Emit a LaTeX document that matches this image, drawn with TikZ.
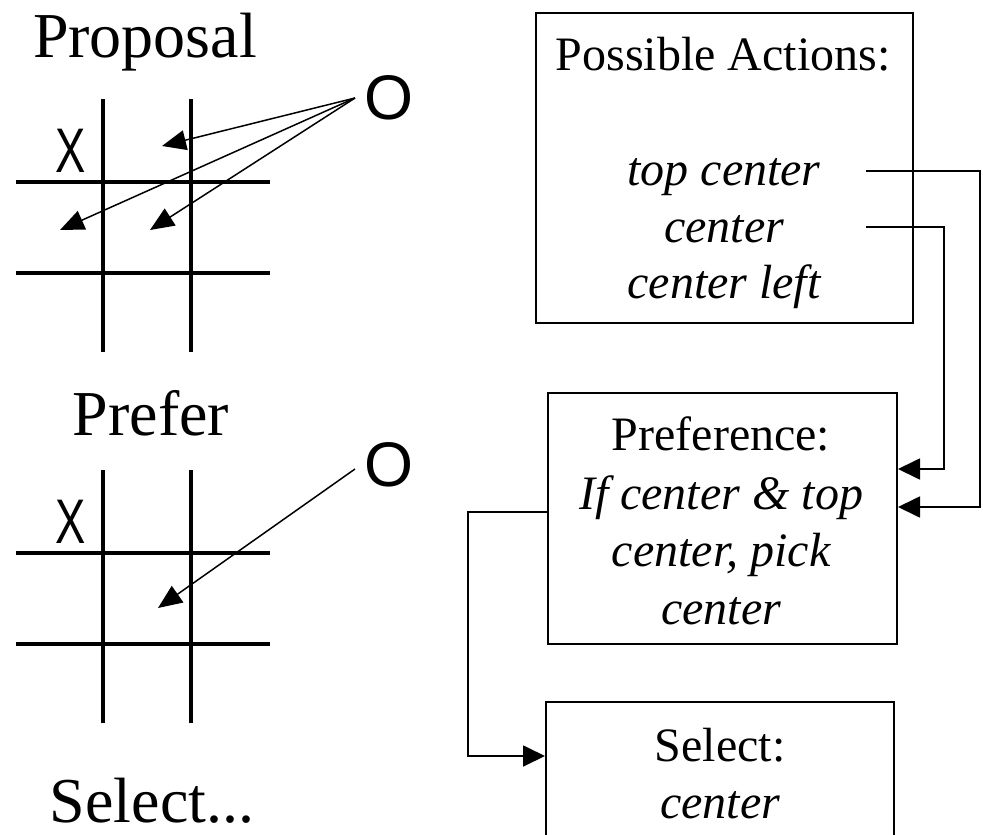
\documentclass[tikz,border=0pt]{standalone}
\usepackage{fontspec}
\setmainfont{Liberation Serif}
\newfontfamily\markfont{Liberation Sans}
\usetikzlibrary{arrows.meta}

\begin{document}
\begin{tikzpicture}[x=1pt,y=-1pt,
  gridline/.style={line width=3.5pt},
  movearrow/.style={line width=1.5pt,-{Triangle[length=24pt 0,width=20pt 0]}},
  box/.style={draw,line width=2pt,rectangle,inner sep=0pt},
  connarrow/.style={line width=1.8pt,-{Triangle[length=22pt 0,width=21pt 0]}},
  heading/.style={font=\fontsize{64}{70}\selectfont,anchor=base,inner sep=0pt},
  boxtext/.style={font=\fontsize{48}{56}\selectfont,anchor=base,inner sep=0pt},
  playmark/.style={font=\markfont\fontsize{63}{70}\selectfont,anchor=base,inner sep=0pt}
]
\useasboundingbox (0,0) rectangle (983,835);
\clip (0,0) rectangle (983,835);

% ---------- left column: boards ----------
\node[heading] (proposal) at (145,57) {Proposal};
\node[heading] (prefer) at (151,435) {Prefer};
\node[heading] (select) at (152,822) {Select...};

% first board
\draw[gridline] (103,99) -- (103,352);
\draw[gridline] (191,99) -- (191,352);
\draw[gridline] (16,182) -- (270,182);
\draw[gridline] (16,273) -- (270,273);
\node[playmark] (xa) at (71,172) {\scalebox{0.72}[1]{X}};
\node[playmark] (oa) at (389,119) {O};
\coordinate (oafrom) at (355,98);
\coordinate (ta1) at (162,146);
\coordinate (ta2) at (60,230);
\coordinate (ta3) at (150,230);
\draw[movearrow] (oafrom) -- (ta1);
\draw[movearrow] (oafrom) -- (ta2);
\draw[movearrow] (oafrom) -- (ta3);

% second board
\draw[gridline] (103,470) -- (103,723);
\draw[gridline] (191,470) -- (191,723);
\draw[gridline] (16,553) -- (270,553);
\draw[gridline] (16,644) -- (270,644);
\node[playmark] (xb) at (71,543) {\scalebox{0.72}[1]{X}};
\node[playmark] (ob) at (389,486) {O};
\coordinate (obfrom) at (355,469);
\coordinate (tb) at (158,608);
\draw[movearrow] (obfrom) -- (tb);

% ---------- right column: decision boxes ----------
\node[box,minimum width=377pt,minimum height=310pt] (actions) at (724.5,168) {};
\node[boxtext] (acthead) at (723,70) {Possible Actions:};
\node[boxtext] (act1) at (724,185) {\itshape top center};
\node[boxtext] (act2) at (724,242) {\itshape center};
\node[boxtext] (act3) at (724,298) {\itshape center left};

\node[box,minimum width=349pt,minimum height=251pt] (pref) at (722.5,518.5) {};
\node[boxtext] (prefhead) at (721,450) {Preference:};
\node[boxtext] (pref1) at (721,509) {\itshape If center \& top};
\node[boxtext] (pref2) at (721,566) {\itshape center, pick};
\node[boxtext] (pref3) at (721,624) {\itshape center};

\node[box,minimum width=348pt,minimum height=176pt] (sel) at (720,790) {};
\node[boxtext] (selhead) at (720,761) {Select:};
\node[boxtext] (sel1) at (720,818) {\itshape center};

% connectors
\coordinate (fromtop) at (866,171);
\coordinate (fromcenter) at (866,227);
\draw[connarrow] (fromtop) -- (980,171) |- (pref.east |- 0,507);
\draw[connarrow] (fromcenter) -- (944,227) |- (pref.east |- 0,469);
\draw[connarrow] (pref.west |- 0,512) -- (468,512) |- (sel.west |- 0,756);
\end{tikzpicture}
\end{document}
